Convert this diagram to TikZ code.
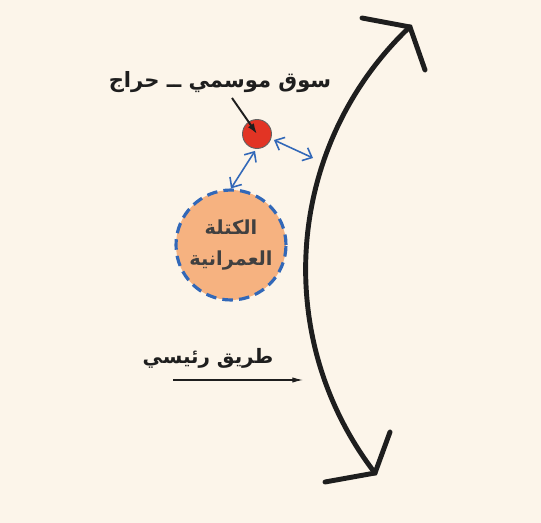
\documentclass[tikz,border=0pt]{standalone}
\usepackage{fontspec}
\usetikzlibrary{arrows.meta}
\newfontfamily\arabicfont[Script=Arabic]{DejaVu Sans}
\TeXXeTstate=1
\definecolor{bgc}{RGB}{252,245,234}
\definecolor{redc}{RGB}{226,52,36}
\definecolor{peach}{RGB}{246,178,128}
\definecolor{bluec}{RGB}{50,104,184}
\definecolor{ink}{RGB}{30,30,30}
\tikzset{
  road/.style={line width=2.8pt, ink, line cap=round, line join=miter},
  link/.style={bluec, line width=0.9pt, {Straight Barb[length=4.5pt,width=8pt]}-{Straight Barb[length=4.5pt,width=8pt]}},
  lbl/.style={text=ink},
  pointer/.style={ink, line width=1.1pt, -{Latex[length=6pt,width=4pt]}}
}
\begin{document}
\begin{tikzpicture}[x=0.02cm,y=-0.02cm]
\fill[bgc] (0,0) rectangle (541,523);
\useasboundingbox (0,0) rectangle (541,523);
% main road arc
\coordinate (top) at (410,27);
\coordinate (bot) at (375,473);
\draw[road] (bot) arc[start angle=-217.6, end angle=-133.5, radius=334];
\coordinate (tw1) at (362,18);
\coordinate (tw2) at (425,70);
\coordinate (bw1) at (325,482);
\coordinate (bw2) at (390,432);
\draw[road] (tw1) -- (top) -- (tw2);
\draw[road] (bw1) -- (bot) -- (bw2);
% market
\node[circle, fill=redc, draw=ink!70, line width=0.5pt, inner sep=0pt, minimum size=0.58cm] (mkt) at (257,134) {};
\node[lbl, font=\arabicfont\bfseries\fontsize{12}{15}\selectfont] (mktlbl) at (220,82) {\beginR سوق موسمي ــ حراج\endR};
\coordinate (pstart) at (232,98);
\draw[pointer] (pstart) -- (mkt.center);
% urban mass
\node[circle, fill=peach, draw=bluec, line width=1.8pt, dash pattern=on 6pt off 3.5pt, minimum size=2.2cm, inner sep=0pt, align=center, font=\arabicfont\bfseries\fontsize{11}{18}\selectfont, text=ink!85] (urb) at (231,245) {\beginR الكتلة\endR\\\beginR العمرانية\endR};
% links
\coordinate (rd) at (313,158);
\draw[link] (mkt.south) ++(-2,2) coordinate (ms) -- (urb.north) ;
\draw[link] (mkt.east) ++(2,6) coordinate (me) -- (rd);
% main road label
\node[lbl, font=\arabicfont\bfseries\fontsize{11.3}{14}\selectfont] (roadlbl) at (208,358) {\beginR طريق رئيسي\endR};
\coordinate (rs) at (173,380);
\coordinate (re) at (303,380);
\draw[ink, line width=0.6pt, -{Latex[length=6pt,width=3pt]}] (rs) -- (re);
\end{tikzpicture}
\end{document}
